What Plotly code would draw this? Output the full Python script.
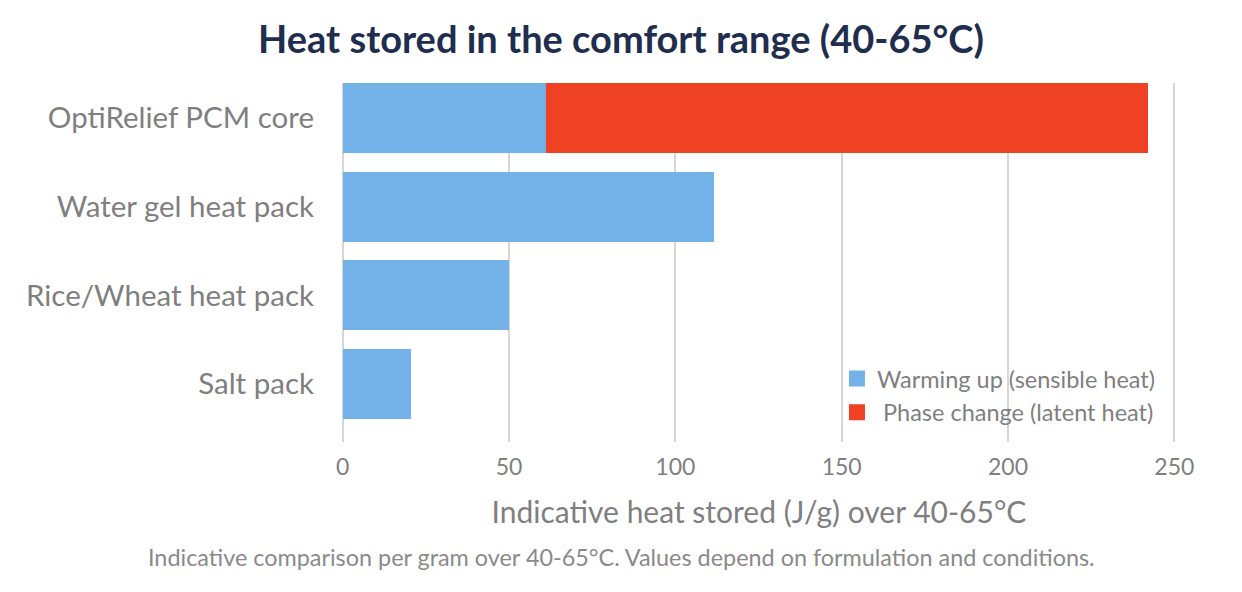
import plotly.graph_objects as go

categories = ["OptiRelief PCM core", "Water gel heat pack", "Rice/Wheat heat pack", "Salt pack"]
sensible = [61, 111.5, 50, 20.5]
latent = [181, 0, 0, 0]
x_ticks = [0, 50, 100, 150, 200, 250]
series_names = ["Warming up (sensible heat)", " Phase change (latent heat)"]
series_colors = ["#72b2e8", "#ef4123"]

FONT = "Lato"
GRAY = "#7f7f7f"

fig = go.Figure()
for vals, name, col in zip([sensible, latent], series_names, series_colors):
    fig.add_trace(go.Bar(
        y=categories, x=vals, orientation="h", name=name,
        marker=dict(color=col, line=dict(width=0)),
        showlegend=False,
    ))
# legend-only entries with larger square swatches
for name, col in zip(series_names, series_colors):
    fig.add_trace(go.Scatter(
        x=[None], y=[None], mode="markers", name=name,
        marker=dict(symbol="square", size=16, color=col),
        showlegend=True,
    ))

fig.update_layout(
    width=1242, height=592,
    barmode="stack", bargap=0.21,
    plot_bgcolor="white", paper_bgcolor="white",
    margin=dict(l=334, r=74, t=75, b=158),
    font=dict(family=FONT, color=GRAY),
    title=dict(
        text="<b>Heat stored in the comfort range (40-65°C)</b>",
        x=613 / 1242, xref="container", xanchor="center",
        y=1 - 32 / 592, yref="container", yanchor="middle",
        font=dict(family=FONT, size=38, color="#1f2d4e"),
    ),
    legend=dict(
        x=0.5935, y=0.02, xanchor="left", yanchor="bottom",
        bgcolor="rgba(0,0,0,0)",
        font=dict(size=23.5, color=GRAY),
        traceorder="normal", itemwidth=30,
        tracegroupgap=0,
    ),
    showlegend=True,
)

fig.update_xaxes(
    range=[-0.2, 250.5],
    tickvals=x_ticks,
    showgrid=True, gridcolor="#d6d6d6", gridwidth=1.5,
    zeroline=True, zerolinecolor="#d6d6d6", zerolinewidth=1.5,
    showline=False,
    tickfont=dict(size=23, color=GRAY),
    ticks="outside", ticklen=4, tickcolor="rgba(0,0,0,0)",
    title=dict(text="Indicative heat stored (J/g) over 40-65°C",
               font=dict(size=30, color=GRAY), standoff=23),
)
fig.update_yaxes(
    categoryorder="array", categoryarray=categories,
    range=[3.655, -0.395],
    showgrid=False, showline=False,
    tickfont=dict(size=29.5, color=GRAY),
    ticklabelstandoff=27,
)

fig.add_annotation(
    text="Indicative comparison per gram over 40-65°C. Values depend on formulation and conditions.",
    xref="paper", yref="paper", x=(613 - 334) / 834, y=-(549 - 434) / 359,
    xanchor="center", yanchor="middle", showarrow=False,
    font=dict(size=23.4, color="#8a8a8a"),
)

fig.write_html("out.html")
